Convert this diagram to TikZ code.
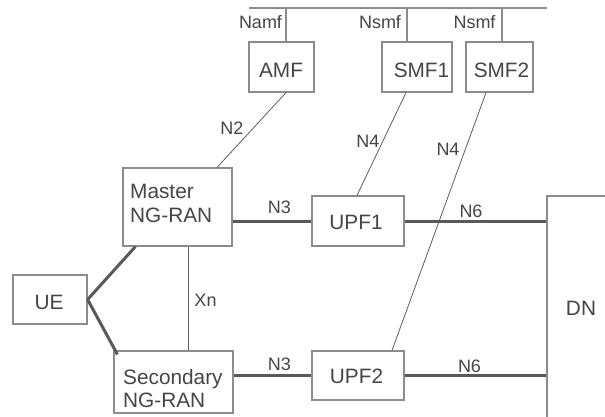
\documentclass[tikz,border=0pt]{standalone}
\usepackage{fontspec}
\setmainfont{Liberation Sans}
\definecolor{boxline}{HTML}{8C8C8C}
\definecolor{txt}{HTML}{454545}
\definecolor{thick}{HTML}{595959}
\definecolor{thin}{HTML}{5E5E5E}
\begin{document}
\begin{tikzpicture}[x=1pt,y=-1pt,
  box/.style={draw=boxline,line width=1.2pt,inner sep=0pt,rectangle},
  boxtext/.style={text=txt,inner sep=0pt,font=\fontsize{20.8}{23.3}\selectfont},
  lbl/.style={text=txt,inner sep=0pt,font=\fontsize{18}{20}\selectfont},
  thinline/.style={draw=thin,line width=0.8pt},
  busline/.style={draw=boxline,line width=1.2pt},
  thickline/.style={draw=thick,line width=3pt}]
\useasboundingbox (0,0) rectangle (605,416);
\clip (0,0) rectangle (605,416);
\fill[white] (0,0) rectangle (605,416);
% boxes
\node[box,minimum width=65pt,minimum height=50pt] (amf) at (281.5,67) {};
\node[box,minimum width=70pt,minimum height=50pt] (smf1) at (417,67) {};
\node[box,minimum width=67pt,minimum height=50pt] (smf2) at (499.5,67) {};
\node[box,minimum width=109pt,minimum height=78pt] (master) at (177.5,207) {};
\node[box,minimum width=74pt,minimum height=49pt] (ue) at (50,299.5) {};
\node[box,minimum width=119pt,minimum height=62pt] (secondary) at (173.5,382) {};
\node[box,minimum width=92pt,minimum height=50pt] (upf1) at (358,221) {};
\node[box,minimum width=92pt,minimum height=49pt] (upf2) at (358,375.5) {};
\node[box,minimum width=80pt,minimum height=240pt] (dn) at (587,316) {};
% box texts
\node[boxtext] (amft) at (281,70) {AMF};
\node[boxtext] (smf1t) at (421.5,70) {SMF1};
\node[boxtext] (smf2t) at (501.5,70) {SMF2};
\node[boxtext] (uet) at (49,302) {UE};
\node[boxtext] (upf1t) at (356,222.5) {UPF1};
\node[boxtext] (upf2t) at (356.5,376) {UPF2};
\node[boxtext] (dnt) at (581,308) {DN};
\node[boxtext,align=left,anchor=north west] (mastert) at (130,184.3) {Master\\NG-RAN};
\node[boxtext,align=left,anchor=north west] (secondaryt) at (123,369) {Secondary\\NG-RAN};
% bus
\coordinate (busL) at (249,8);
\coordinate (busR) at (547,8);
\draw[busline] (busL) -- (busR);
\draw[busline] ([xshift=4.5pt]amf.north) -- ([xshift=4.5pt]amf.north |- busL);
\draw[busline] ([xshift=-10pt]smf1.north) -- ([xshift=-10pt]smf1.north |- busL);
\draw[busline] ([xshift=2.5pt]smf2.north) -- ([xshift=2.5pt]smf2.north |- busL);
\node[lbl] (namf) at (260.5,22) {Namf};
\node[lbl] (nsmf1) at (380,22) {Nsmf};
\node[lbl] (nsmf2) at (474.5,22) {Nsmf};
% thin connectors
\draw[thinline] ([xshift=4.5pt]amf.south) -- ([xshift=39.5pt]master.north);
\draw[thinline] ([xshift=-11pt]smf1.south) -- ([xshift=-1pt]upf1.north);
\draw[thinline] ([xshift=-13.5pt]smf2.south) -- ([xshift=34pt]upf2.north);
\draw[thinline] ([xshift=10.5pt]master.south) -- ([xshift=10.5pt]master.south |- secondary.north);
\node[lbl] (n2) at (232,128) {N2};
\node[lbl] (n4a) at (368,141) {N4};
\node[lbl] (n4b) at (448,149) {N4};
\node[lbl] (xn) at (205.5,300.5) {Xn};
% thick connectors
\draw[thickline] (master.east |- upf1.west) -- (upf1.west);
\draw[thickline] (secondary.east |- upf2.west) -- (upf2.west);
\draw[thickline] (upf1.east) -- (upf1.east -| dn.west);
\draw[thickline] (upf2.east) -- (upf2.east -| dn.west);
\draw[thickline] (ue.east) -- ([xshift=13pt]master.south west);
\draw[thickline] (ue.east) -- ([shift={(4,4)}]secondary.north west);
\node[lbl] (n3a) at (279.5,207.5) {N3};
\node[lbl] (n3b) at (279.5,364.5) {N3};
\node[lbl] (n6a) at (471,211) {N6};
\node[lbl] (n6b) at (469.5,366) {N6};
\end{tikzpicture}
\end{document}
